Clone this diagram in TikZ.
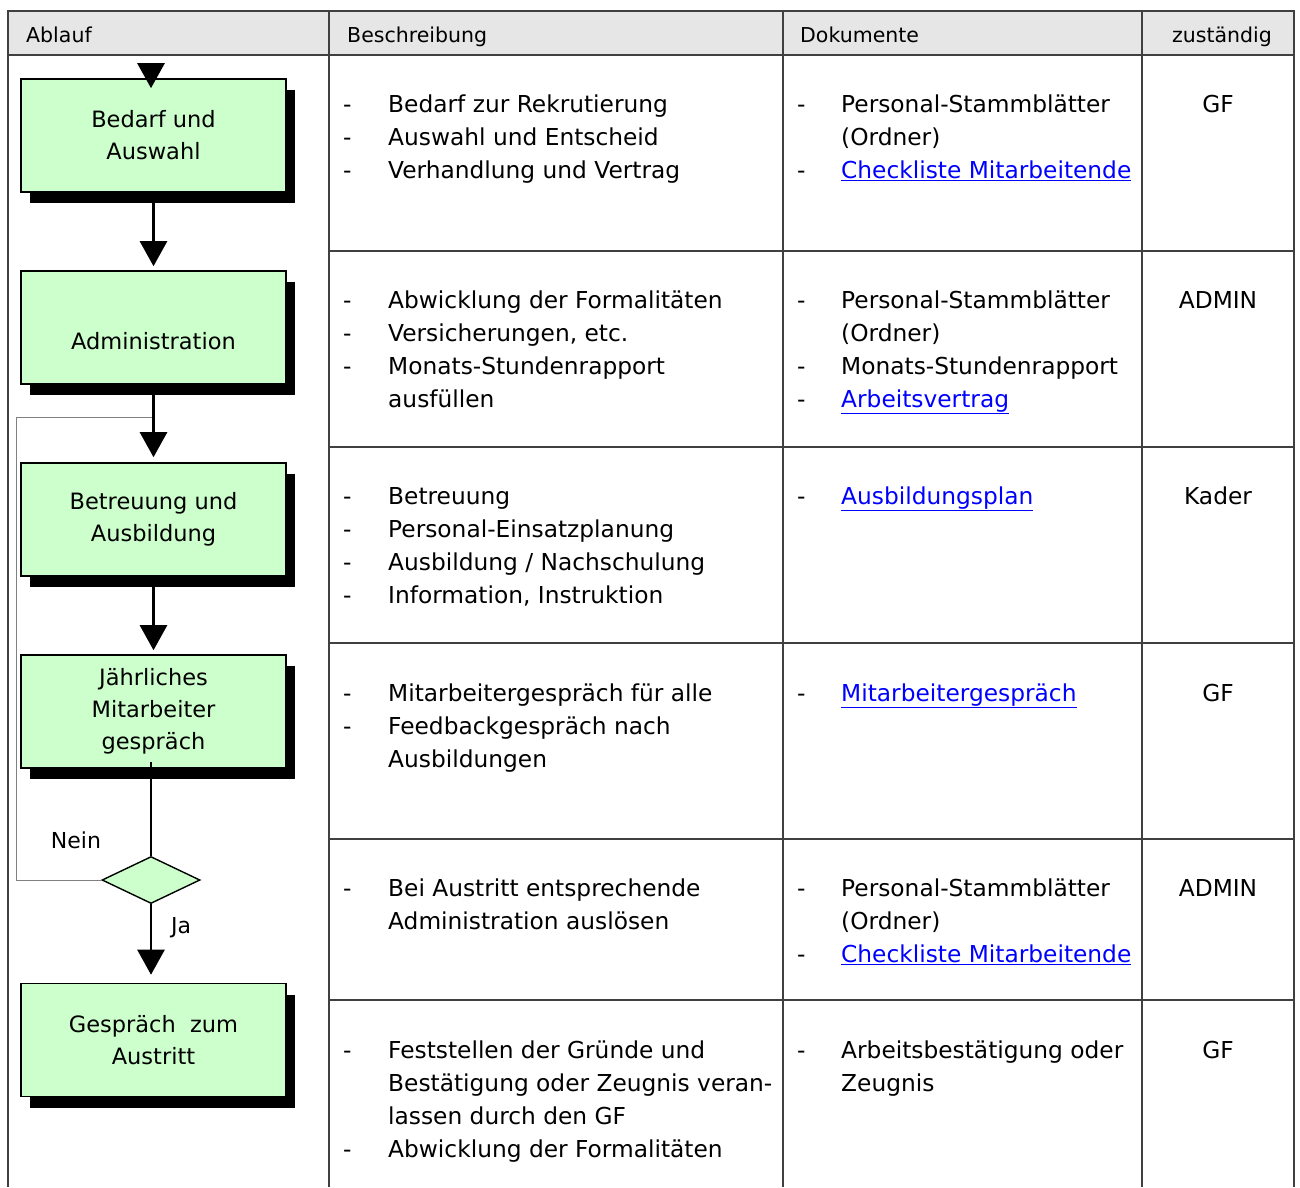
\documentclass[tikz,border=0pt]{standalone}
\usepackage{fontspec}
\setmainfont{DejaVu Sans}
\usepackage{xcolor}
\usetikzlibrary{arrows.meta,calc,positioning,shapes.geometric,shadows}

\definecolor{boxgreen}{HTML}{CCFFCC}
\definecolor{headgray}{HTML}{E6E6E6}
\definecolor{linkblue}{HTML}{0000FF}
\newcommand{\lnk}[1]{\textcolor{linkblue}{\underline{#1}}}
\newcommand{\celltext}{\fontsize{23.3}{33}\selectfont}

\begin{document}
\begin{tikzpicture}[x=1pt,y=-1pt,>={Triangle[width=27pt,length=25pt]},
	stepbox/.style={draw,line width=1.6pt,fill=boxgreen,minimum width=265pt,minimum height=113pt,
		align=center,font=\fontsize{22.5}{32}\selectfont,
		drop shadow={shadow xshift=9pt,shadow yshift=-11pt,fill=black,opacity=1}},
	decision/.style={diamond,draw,line width=1.4pt,fill=boxgreen,minimum width=98pt,minimum height=47pt,aspect=2,inner sep=0pt},
	flow/.style={->,line width=2.6pt},
	loopline/.style={draw=gray,line width=0.9pt},
	grid/.style={draw=black!75,line width=1.2pt},
	head/.style={anchor=base west,font=\fontsize{20.5}{24}\selectfont,inner sep=0pt},
	cell/.style={anchor=base west,font=\celltext,inner sep=0pt},
	who/.style={anchor=base,font=\celltext,inner sep=0pt}]
	\useasboundingbox (0,0) rectangle (1300,1187);

	% table
	\fill[headgray] (8,11) rectangle (1294,55);
	\draw[grid] (8,1187) -- (8,11) -- (1294,11) -- (1294,1187);
	\draw[grid] (8,55) -- (1294,55);
	\foreach \x in {329,783,1142}
		\draw[grid] (\x,11) -- (\x,1187);
	\foreach \y in {251,447,643,839,1000}
		\draw[grid] (329,\y) -- (1294,\y);

	\node[head] (hablauf) at (26,42) {Ablauf};
	\node[head] (hbeschr) at (347,42) {Beschreibung};
	\node[head] (hdok) at (800,42) {Dokumente};
	\node[head,anchor=base] (hwer) at (1222,42) {zuständig};

	% flow chart
	\node[stepbox] (bedarf) at (153.5,135.5) {Bedarf und\\Auswahl};
	\node[stepbox] (admin) at (153.5,327.5) {\strut\\Administration\strut};
	\node[stepbox] (betreuung) at (153.5,519.5) {Betreuung und\\Ausbildung};
	\node[stepbox] (gespraech) at (153.5,711.5) {Jährliches\\Mitarbeiter\\gespräch};
	\node[decision] (dia) at (151,880) {};
	\node[stepbox] (austritt) at (153.5,1040) {Gespräch\ \ zum\\Austritt};
	\coordinate (start) at (151,65);
	\coordinate (loopin) at (152,417);
	\coordinate (loopcorner) at (16,880);

	\draw[flow,shorten >=-10pt] (start) -- (start |- bedarf.north);
	\draw[flow,shorten >=4pt] (bedarf.south) -- (admin.north);
	\draw[flow,shorten >=5pt] (admin.south) -- (betreuung.north);
	\draw[flow,shorten >=4pt] (betreuung.south) -- (gespraech.north);
	\draw[line width=2.6pt] ($(gespraech.south -| dia.north)+(0,-7)$) -- (dia.north);
	\draw[flow,shorten >=8pt] (dia.south) -- (dia.south |- austritt.north);
	\draw[loopline] (dia.west) -- (loopcorner) |- (loopin);
	\node[font=\fontsize{22}{26}\selectfont] (nein) at (76,840) {Nein};
	\node[font=\fontsize{22}{26}\selectfont] (ja) at (181,928) {Ja};

	% Beschreibung
	\node[cell] (d1) at (343,112) {\begin{tabular}[t]{@{}p{45pt}@{}l@{}}
		- & Bedarf zur Rekrutierung\\
		- & Auswahl und Entscheid\\
		- & Verhandlung und Vertrag\end{tabular}};
	\node[cell] (d2) at (343,308) {\begin{tabular}[t]{@{}p{45pt}@{}l@{}}
		- & Abwicklung der Formalitäten\\
		- & Versicherungen, etc.\\
		- & Monats-Stundenrapport\\
		  & ausfüllen\end{tabular}};
	\node[cell] (d3) at (343,504) {\begin{tabular}[t]{@{}p{45pt}@{}l@{}}
		- & Betreuung\\
		- & Personal-Einsatzplanung\\
		- & Ausbildung / Nachschulung\\
		- & Information, Instruktion\end{tabular}};
	\node[cell] (d4) at (343,701) {\begin{tabular}[t]{@{}p{45pt}@{}l@{}}
		- & Mitarbeitergespräch für alle\\
		- & Feedbackgespräch nach\\
		  & Ausbildungen\end{tabular}};
	\node[cell] (d5) at (343,896) {\begin{tabular}[t]{@{}p{45pt}@{}l@{}}
		- & Bei Austritt entsprechende\\
		  & Administration auslösen\end{tabular}};
	\node[cell] (d6) at (343,1058) {\begin{tabular}[t]{@{}p{45pt}@{}l@{}}
		- & Feststellen der Gründe und\\
		  & Bestätigung oder Zeugnis veran-\\
		  & lassen durch den GF\\
		- & Abwicklung der Formalitäten\end{tabular}};

	% Dokumente
	\node[cell] (k1) at (797,112) {\begin{tabular}[t]{@{}p{44pt}@{}l@{}}
		- & Personal-Stammblätter\\
		  & (Ordner)\\
		- & \lnk{Checkliste Mitarbeitende}\end{tabular}};
	\node[cell] (k2) at (797,308) {\begin{tabular}[t]{@{}p{44pt}@{}l@{}}
		- & Personal-Stammblätter\\
		  & (Ordner)\\
		- & Monats-Stundenrapport\\
		- & \lnk{Arbeitsvertrag}\end{tabular}};
	\node[cell] (k3) at (797,504) {\begin{tabular}[t]{@{}p{44pt}@{}l@{}}
		- & \lnk{Ausbildungsplan}\end{tabular}};
	\node[cell] (k4) at (797,701) {\begin{tabular}[t]{@{}p{44pt}@{}l@{}}
		- & \lnk{Mitarbeitergespräch}\end{tabular}};
	\node[cell] (k5) at (797,896) {\begin{tabular}[t]{@{}p{44pt}@{}l@{}}
		- & Personal-Stammblätter\\
		  & (Ordner)\\
		- & \lnk{Checkliste Mitarbeitende}\end{tabular}};
	\node[cell] (k6) at (797,1058) {\begin{tabular}[t]{@{}p{44pt}@{}l@{}}
		- & Arbeitsbestätigung oder\\
		  & Zeugnis\end{tabular}};

	% zustaendig
	\node[who] (w1) at (1218,112) {GF};
	\node[who] (w2) at (1218,308) {ADMIN};
	\node[who] (w3) at (1218,504) {Kader};
	\node[who] (w4) at (1218,701) {GF};
	\node[who] (w5) at (1218,896) {ADMIN};
	\node[who] (w6) at (1218,1058) {GF};
\end{tikzpicture}
\end{document}
